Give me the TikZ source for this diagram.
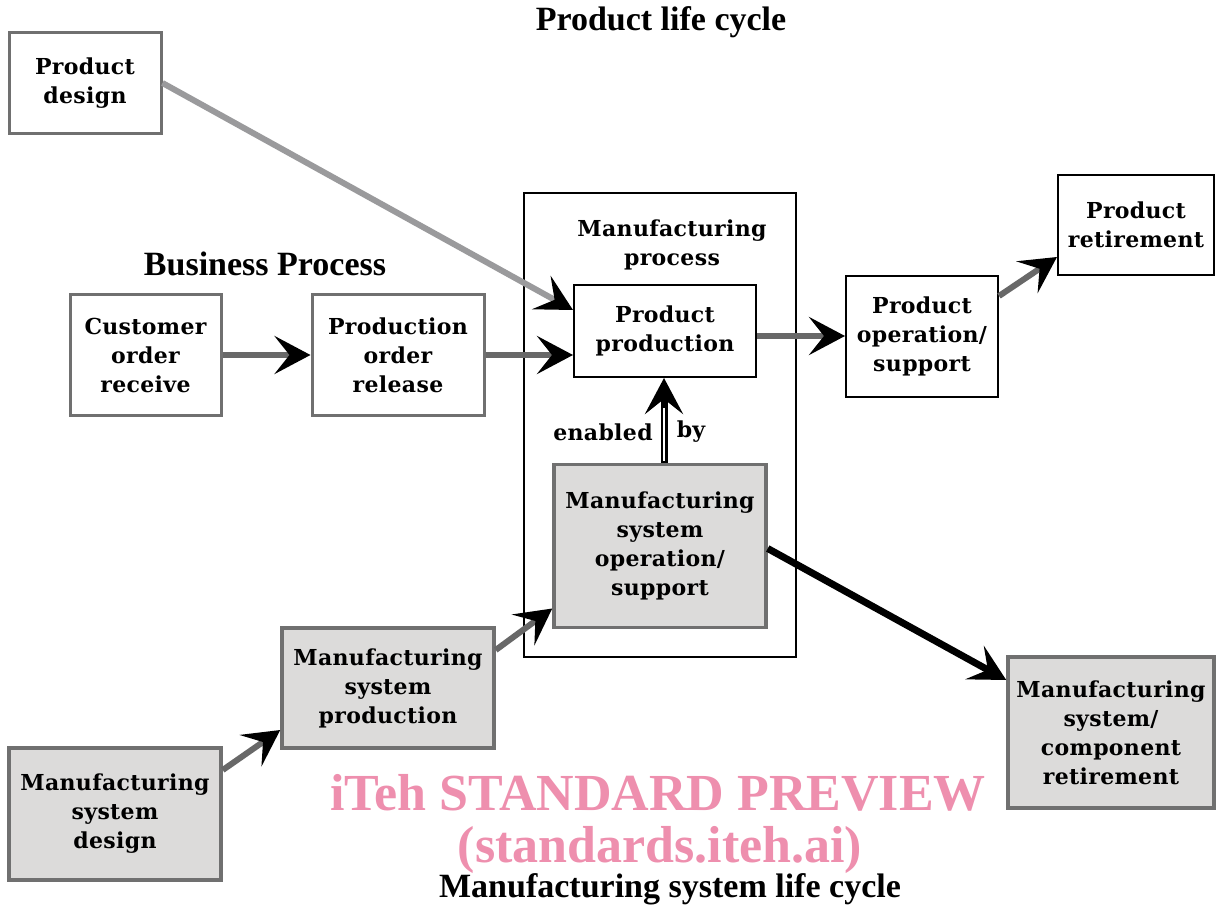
\documentclass[tikz,border=0pt]{standalone}
\usepackage{fontspec}
\setmainfont{DejaVu Serif}
\newfontfamily\lblfont[LetterSpace=1.5]{DejaVu Serif}
\newfontfamily\titlefont{Liberation Serif}
\usetikzlibrary{arrows.meta}
\definecolor{boxgray}{HTML}{DCDBDA}
\definecolor{edgegray}{HTML}{707070}
\definecolor{linkgray}{HTML}{686868}
\definecolor{lightlink}{HTML}{9A9A9C}
\definecolor{wmpink}{HTML}{EE8FAE}
\tikzset{
  x=1pt, y=-1pt,
  lbl/.style={font=\lblfont\bfseries\fontsize{22}{29}\selectfont, align=center, inner sep=0pt},
  whitebox/.style={lbl, draw=black, line width=2pt, fill=white},
  graywhite/.style={lbl, draw=edgegray, line width=3pt, fill=white},
  graybox/.style={lbl, draw=edgegray, line width=3.5pt, fill=boxgray},
  ttl/.style={font=\titlefont\bfseries\fontsize{34}{36}\selectfont, inner sep=0pt},
  tip/.style={-{Stealth[length=36pt, width=38pt, inset=15pt, color=black]}},
  link/.style={tip, draw=linkgray, line width=6pt},
  wm/.style={font=\titlefont\bfseries\fontsize{52}{56}\selectfont, text=wmpink, inner sep=0pt}
}
\begin{document}
\begin{tikzpicture}
\useasboundingbox (0,0) rectangle (1216,907);
\fill[white] (0,0) rectangle (1216,907);

% outer manufacturing process box
\node[draw=black, line width=2pt, minimum width=272pt, minimum height=464pt, inner sep=0pt] (mp) at (660,425) {};
\node[lbl] (mptxt) at (672,245) {Manufacturing\\process};

% boxes
\node[graywhite, minimum width=152pt, minimum height=100pt] (pd) at (85,83) {Product\\design};
\node[graywhite, minimum width=151pt, minimum height=121pt] (cor) at (145.5,355) {Customer\\order\\receive};
\node[graywhite, minimum width=172pt, minimum height=121pt] (por) at (398,355) {Production\\order\\release};
\node[whitebox, minimum width=182pt, minimum height=92pt] (pp) at (665,331) {Product\\production};
\node[whitebox, minimum width=152pt, minimum height=121pt] (pop) at (922,336) {Product\\operation/\\support};
\node[whitebox, minimum width=156pt, minimum height=100pt] (pr) at (1136,225) {Product\\retirement};
\node[graybox, minimum width=212pt, minimum height=163pt] (msop) at (660,546) {Manufacturing\\system\\operation/\\support};
\node[graybox, minimum width=212pt, minimum height=120pt] (msp) at (388,688) {Manufacturing\\system\\production};
\node[graybox, minimum width=212pt, minimum height=132pt] (msd) at (115,814) {Manufacturing\\system\\design};
\node[graybox, minimum width=206pt, minimum height=151pt] (msr) at (1111,732.5) {Manufacturing\\system/\\component\\retirement};

% titles
\node[ttl] (t1) at (661,22) {Product life cycle};
\node[ttl] (t2) at (265,264) {Business Process};
\node[ttl] (t3) at (670,889) {Manufacturing system life cycle};
\node[lbl] (en) at (603,432) {enabled};
\node[lbl] (by) at (691,432) {by};

% connectors
\draw[tip, draw=lightlink, line width=6pt] (pd.east) -- ([yshift=21pt]pp.west);
\draw[link] (cor.east) -- (por.west);
\draw[link] (por.east) -- ([yshift=-24pt]pp.west);
\draw[link] ([yshift=-5pt]pp.east) -- ([yshift=0pt]pop.west);
\draw[link] ([yshift=40pt]pop.east) -- ([yshift=-32pt]pr.west);
\draw[link] ([yshift=44pt]msd.east) -- ([yshift=-42pt]msp.west);
\draw[link] ([yshift=38pt]msp.east) -- ([yshift=-62.5pt]msop.west);
\draw[tip, draw=black, line width=7pt] ([yshift=-2.5pt]msop.east) -- ([yshift=52.5pt]msr.west);
\draw[tip, draw=black, line width=7pt] ([xshift=4pt]msop.north) -- ([xshift=-1pt]pp.south);
\draw[white, line width=2pt, shorten >=30pt, shorten <=2pt] ([xshift=4pt]msop.north) -- ([xshift=-1pt]pp.south);

% watermark
\node[wm] (w1) at (658,793) {iTeh STANDARD PREVIEW};
\node[wm] (w2) at (660,850) {(standards.iteh.ai)};
\end{tikzpicture}
\end{document}
